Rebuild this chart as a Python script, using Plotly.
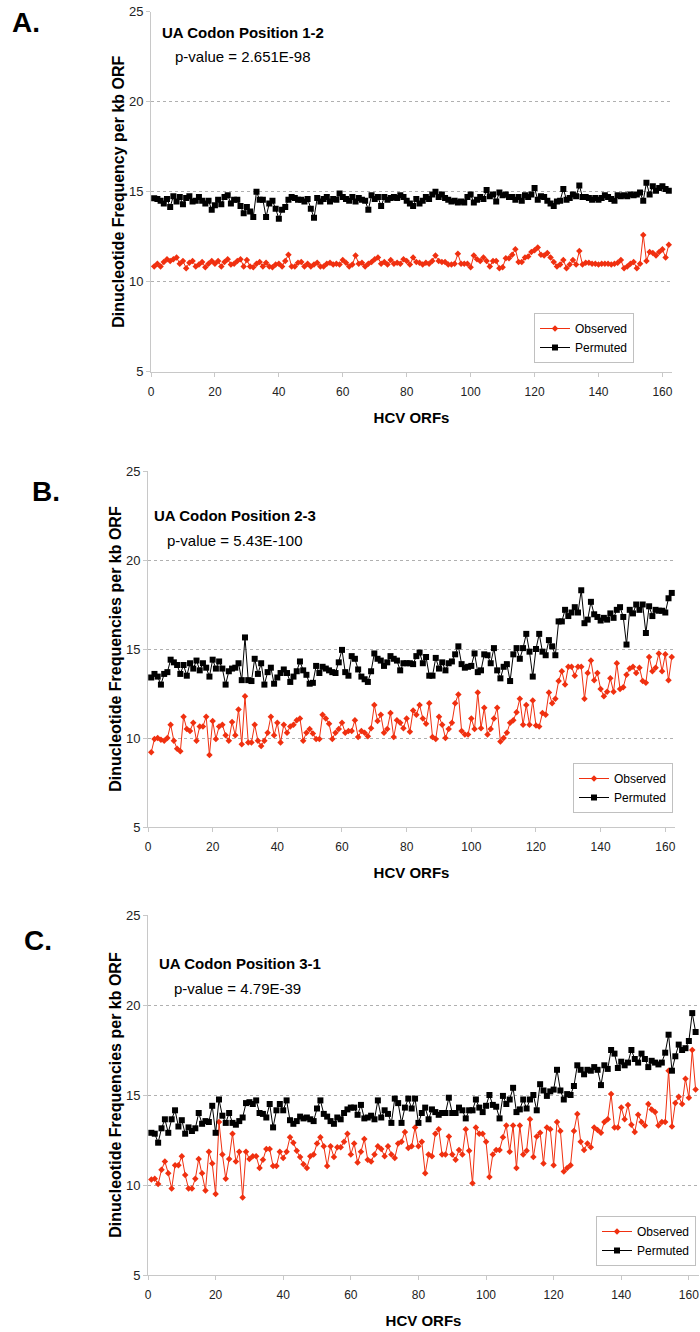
import plotly.graph_objects as go

# ---------------- data ----------------
a_observed = [10.85, 11.0, 10.85, 11.1, 11.25, 11.15, 11.25, 11.35, 11.0, 11.15, 10.75, 11.05, 11.15, 10.85, 10.95, 11.1, 10.8, 11.0, 11.15, 11.0,
              11.15, 10.85, 11.1, 11.25, 10.95, 11.0, 11.15, 11.25, 10.85, 11.2, 10.85, 10.8, 11.0, 11.1, 10.85, 11.05, 10.85, 10.8, 10.95, 11.0,
              10.85, 11.15, 11.5, 10.85, 10.85, 11.05, 11.1, 10.85, 11.0, 10.85, 10.95, 11.05, 10.85, 10.85, 11.0, 11.05, 10.95, 11.0, 10.95, 11.2,
              11.05, 10.85, 10.95, 11.45, 11.0, 11.05, 10.85, 11.0, 11.1, 11.25, 11.35, 11.0, 11.1, 10.95, 11.2, 11.0, 11.05,
              11.0, 11.25, 11.15, 10.95, 11.35, 11.1, 11.05, 10.95, 11.05, 11.0, 11.15, 11.45, 11.15, 11.1, 11.1, 10.95, 10.95, 11.0, 11.55, 11.0,
              11.0, 11.0, 10.8, 11.45, 11.25, 11.15, 11.35, 11.15, 10.85, 11.15, 11.15, 10.75, 10.8, 11.3, 11.3, 11.5, 11.8, 11.1, 11.1, 11.35,
              11.4, 11.65, 11.75, 11.9, 11.5, 11.45, 11.6, 11.35, 11.1, 10.85, 10.95, 11.2, 10.75, 10.95, 11.2, 10.95, 11.7, 10.95, 11.05, 11.05,
              11.0, 11.0, 10.95, 11.0, 11.0, 11.0, 10.95, 11.0, 11.05, 11.2, 10.75, 10.85, 11.0, 11.1, 10.75, 11.0, 12.6, 11.15, 11.65, 11.6,
              11.45, 11.65, 11.8, 11.35, 12.05]
a_permuted = [14.63, 14.6, 14.5, 14.35, 14.6, 14.15, 14.75, 14.45, 14.7, 14.3, 14.65, 14.75, 14.45, 14.5, 14.7, 14.5, 14.35, 14.5, 14.0, 14.25,
              14.55, 14.3, 14.7, 14.8, 14.35, 14.55, 14.55, 14.2, 13.8, 14.15, 13.9, 13.6, 15.0, 14.55, 14.55, 13.6, 14.35, 14.5, 14.05, 13.5,
              14.0, 14.15, 14.55, 14.7, 14.65, 14.55, 14.55, 14.45, 14.6, 14.05, 13.55, 14.65, 14.45, 14.6, 14.7, 14.45, 14.6, 14.55, 14.9, 14.7,
              14.6, 14.5, 14.7, 14.45, 14.65, 14.55, 14.5, 14.0, 14.8, 14.6, 14.7, 14.2, 14.7, 14.55, 14.65, 14.7, 14.65,
              14.8, 14.7, 14.5, 14.35, 14.2, 14.6, 14.35, 14.5, 14.7, 14.6, 14.85, 15.0, 14.7, 14.85, 14.65, 14.55, 14.45, 14.5, 14.4, 14.45,
              14.4, 14.7, 14.85, 14.4, 14.55, 14.7, 14.6, 15.1, 14.75, 14.85, 14.45, 14.95, 14.8, 14.85, 14.7, 14.7, 14.55, 14.7, 14.5, 14.8,
              14.7, 14.85, 15.2, 14.55, 14.75, 14.7, 14.5, 14.35, 14.2, 14.45, 14.5, 15.15, 14.55, 14.65, 14.85, 14.75, 15.35, 14.7, 14.7, 14.65,
              14.55, 14.65, 14.55, 14.65, 14.8, 14.7, 14.6, 14.5, 14.8, 14.75, 14.8, 14.75, 14.85, 14.8, 14.85, 14.95, 14.5, 15.5, 14.85, 15.3,
              15.05, 15.2, 15.3, 15.15, 15.05]

b_observed = [9.2, 9.95, 10.0, 9.9, 9.85, 10.0, 10.75, 9.85, 9.4, 9.25, 11.2, 10.5, 10.4, 10.85, 9.85, 10.65, 10.65, 11.2, 9.05, 10.95,
              9.95, 10.65, 10.75, 10.15, 9.85, 10.9, 10.15, 11.6, 9.65, 12.35, 9.75, 9.75, 10.75, 9.85, 9.55, 9.85, 10.3, 11.2, 10.15, 10.85,
              9.75, 10.75, 10.3, 10.65, 10.75, 11.0, 11.1, 9.85, 10.3, 10.5, 10.25, 9.95, 9.95, 11.3, 11.1, 10.8, 9.95, 10.3, 10.5, 10.85,
              10.3, 10.4, 10.4, 11.0, 10.05, 10.4, 10.3, 10.1, 10.55, 11.85, 10.95, 11.3, 10.3, 10.5, 11.4, 10.05, 11.0, 10.85, 10.55, 11.1,
              10.35, 11.55, 11.3, 11.85, 11.1, 10.8, 11.95, 10.05, 9.95, 11.2, 10.75, 10.0, 10.5, 10.85, 11.95, 12.45, 10.4, 10.2, 10.2, 11.1,
              10.5, 12.55, 10.55, 11.7, 10.2, 10.5, 11.1, 11.7, 9.8, 10.0, 10.3, 10.85, 11.0, 11.45, 12.2, 10.75, 11.85, 10.75, 12.1, 10.7,
              10.65, 11.4, 11.3, 12.55, 11.95, 12.2, 13.2, 13.75, 13.0, 14.0, 14.0, 13.5, 14.0, 14.0, 12.2, 13.65, 14.35, 13.25, 13.65, 12.75,
              12.35, 12.6, 13.35, 12.6, 14.2, 12.75, 12.85, 13.55, 13.9, 14.0, 13.65, 13.95, 13.2, 13.1, 14.55, 13.75, 13.95, 14.75, 13.75, 14.7,
              13.25, 14.55]
b_permuted = [13.4, 13.6, 13.45, 13.0, 13.6, 13.7, 14.4, 14.25, 14.1, 13.6, 14.1, 13.5, 14.2, 13.9, 14.35, 13.8, 14.2, 13.95, 13.45, 14.4,
              13.9, 14.3, 13.9, 13.0, 13.75, 13.9, 13.95, 14.2, 13.25, 15.65, 13.25, 13.2, 14.45, 13.6, 14.2, 13.0, 13.7, 13.95, 13.05, 13.4,
              13.65, 13.85, 13.65, 13.15, 13.45, 13.75, 14.3, 13.8, 13.55, 13.05, 13.1, 14.05, 13.65, 14.0, 13.9, 13.8, 13.7, 13.65, 14.25, 14.95,
              13.7, 13.5, 14.6, 14.45, 13.85, 13.45, 13.3, 13.15, 13.75, 14.75, 14.45, 14.35, 14.05, 14.25, 14.6, 14.45, 14.35, 13.8, 14.2, 14.2,
              14.2, 14.15, 14.6, 14.8, 14.2, 14.55, 13.5, 13.5, 14.5, 13.9, 14.25, 13.8, 14.2, 14.3, 14.7, 15.15, 14.15, 13.95, 14.0, 14.05,
              14.75, 13.7, 13.8, 14.7, 14.65, 14.2, 15.05, 13.8, 13.35, 14.0, 14.15, 13.2, 14.7, 15.05, 14.45, 15.05, 15.85, 14.85, 13.45, 15.0,
              15.85, 14.85, 14.65, 15.5, 15.15, 14.65, 16.55, 16.55, 17.2, 16.85, 17.05, 17.35, 17.05, 18.3, 16.45, 16.65, 17.65, 16.95, 16.8, 16.6,
              16.75, 16.65, 17.0, 16.75, 17.2, 17.35, 16.8, 15.25, 17.2, 17.0, 17.5, 17.2, 17.5, 15.9, 17.4, 16.85, 17.2, 17.15, 17.15, 17.05,
              17.85, 18.15]

c_observed = [10.3, 10.35, 10.05, 10.85, 11.3, 10.65, 9.8, 11.1, 11.1, 11.6, 10.55, 9.8, 9.8, 10.35, 11.45, 10.65, 9.7, 11.85, 11.2, 9.5,
              13.5, 11.7, 10.35, 11.45, 12.85, 11.3, 11.85, 9.3, 11.85, 11.45, 11.6, 11.6, 10.95, 11.4, 12.0, 12.0, 11.05, 11.05, 11.85, 11.5,
              11.85, 12.65, 12.35, 11.9, 11.55, 11.15, 10.95, 11.6, 11.7, 12.3, 12.65, 12.15, 11.05, 12.15, 11.55, 12.1, 12.1, 12.4, 12.85, 11.7,
              12.3, 11.25, 11.85, 12.55, 11.4, 11.3, 11.7, 12.15, 12.0, 11.6, 12.15, 11.7, 11.5, 12.3, 12.4, 12.95, 12.05, 12.15, 13.2, 12.15,
              12.4, 10.65, 11.7, 11.6, 12.85, 13.1, 11.7, 11.7, 12.7, 11.7, 11.4, 11.95, 11.7, 13.1, 11.9, 10.1, 13.2, 12.85, 12.85, 12.4,
              10.45, 11.7, 11.95, 11.95, 12.65, 13.3, 11.85, 13.3, 10.95, 13.3, 11.7, 11.9, 13.65, 11.55, 12.7, 12.9, 11.2, 13.2, 13.1, 11.1,
              13.5, 13.0, 10.75, 10.95, 11.1, 13.0, 13.95, 12.4, 11.95, 12.3, 12.1, 13.2, 13.05, 12.9, 13.5, 13.65, 15.05, 13.2, 13.2, 14.3,
              13.65, 14.45, 13.35, 12.95, 13.9, 13.5, 13.3, 14.5, 14.2, 14.05, 13.3, 13.5, 13.5, 16.35, 13.25, 14.55, 14.9, 14.5, 15.9, 14.85,
              17.5, 15.3]
c_permuted = [12.9, 12.85, 12.35, 13.15, 13.65, 12.9, 13.65, 14.15, 13.25, 13.6, 12.85, 13.2, 13.0, 13.15, 14.0, 13.4, 13.55, 13.5, 14.4, 12.9,
              14.75, 13.85, 13.45, 14.0, 13.45, 13.35, 13.55, 13.75, 14.55, 14.6, 14.5, 14.7, 14.0, 13.95, 13.75, 14.5, 13.2, 14.15, 14.5, 14.15,
              14.7, 13.6, 13.4, 13.55, 13.8, 13.7, 13.75, 13.65, 13.55, 14.25, 14.7, 13.95, 13.8, 13.55, 13.4, 13.75, 13.65, 14.0, 14.2, 14.3,
              14.3, 13.9, 14.45, 13.7, 13.75, 13.85, 13.65, 14.7, 13.75, 14.15, 13.95, 13.45, 14.8, 14.55, 13.45, 14.3, 14.8, 14.25, 14.8, 13.45,
              14.0, 14.3, 13.65, 14.2, 14.05, 13.9, 14.0, 14.0, 14.85, 14.0, 14.0, 14.3, 14.15, 13.7, 14.15, 14.15, 14.75, 14.3, 14.05, 14.4,
              15.0, 14.45, 14.35, 13.7, 14.95, 14.5, 14.75, 15.4, 14.05, 14.2, 14.75, 14.25, 14.75, 15.0, 14.15, 15.6, 15.25, 14.95, 15.2, 15.3,
              16.4, 15.25, 14.75, 15.05, 15.0, 15.5, 16.65, 16.4, 16.15, 16.4, 16.35, 16.55, 16.4, 15.55, 16.65, 16.45, 17.5, 17.3, 16.5, 16.85,
              16.65, 16.8, 17.5, 17.0, 16.8, 17.3, 17.0, 16.55, 16.9, 16.8, 16.7, 16.8, 17.35, 18.35, 16.35, 17.15, 17.8, 17.5, 17.6, 18.0,
              19.55, 18.5]

x_tick_vals = [0, 20, 40, 60, 80, 100, 120, 140, 160]
y_tick_vals = [5, 10, 15, 20, 25]

panel_letters = ["A.", "B.", "C."]
panel_titles = ["UA Codon Position 1-2", "UA Codon Position 2-3", "UA Codon Position 3-1"]
panel_pvalues = ["p-value = 2.651E-98", "p-value = 5.43E-100", "p-value = 4.79E-39"]
y_titles = ["Dinucleotide Frequency per kb ORF",
            "Dinucleotide Frequencies per kb ORF",
            "Dinucleotide Frequencies per kb ORF"]
x_title = "HCV ORFs"
series_names = ["Observed", "Permuted"]

# ---------------- layout helpers (pixels) ----------------
W, H = 700, 1332
FONT = "Liberation Sans, Arial, sans-serif"
RED = "#f03010"


def px(x):
    return x / W


def py(y):
    return 1 - y / H


# plot rectangles: left, right, top, bottom in pixels
rects = [(151, 672, 11.7, 371.7), (148, 675, 471, 827), (148, 699, 915, 1275)]
legend_pos = [(634, 363), (673, 813), (696, 1266)]
letter_pos = [(10, 23), (30, 491), (22, 940)]
title_pos = [(160, 32), (152, 515), (157, 963)]
pval_pos = [(173, 56), (165, 540), (172, 988)]

obs = [a_observed, b_observed, c_observed]
perm = [a_permuted, b_permuted, c_permuted]

fig = go.Figure()
annotations = []
layout_kw = {}
for i in range(3):
    sfx = "" if i == 0 else str(i + 1)
    leg = "legend" if i == 0 else "legend" + str(i + 1)
    xa = "x" + sfx
    ya = "y" + sfx
    fig.add_trace(go.Scatter(
        x=list(range(1, len(obs[i]) + 1)), y=obs[i], name=series_names[0],
        mode="lines+markers", line=dict(color=RED, width=1),
        marker=dict(symbol="diamond", size=5, color=RED),
        xaxis=xa, yaxis=ya, legend=leg))
    fig.add_trace(go.Scatter(
        x=list(range(1, len(perm[i]) + 1)), y=perm[i], name=series_names[1],
        mode="lines+markers", line=dict(color="black", width=1),
        marker=dict(symbol="square", size=6, color="black"),
        xaxis=xa, yaxis=ya, legend=leg))
    l, r, t, b = rects[i]
    layout_kw["xaxis" + sfx] = dict(
        domain=[px(l), px(r)], anchor=ya, range=[0, 163],
        tickvals=x_tick_vals, ticks="outside", ticklen=4, tickcolor="#c8c8c8",
        ticklabelstandoff=5,
        showline=True, linecolor="#c8c8c8", linewidth=1, showgrid=False, zeroline=False,
        tickfont=dict(family=FONT, size=12, color="#222"),
        title=dict(text="<b>" + x_title + "</b>", font=dict(family=FONT, size=15, color="black"), standoff=14),
        automargin=False)
    layout_kw["yaxis" + sfx] = dict(
        domain=[py(b), py(t)], anchor=xa, range=[5, 25],
        tickvals=y_tick_vals, ticks="outside", ticklen=4, tickcolor="#c8c8c8",
        showline=True, linecolor="#c8c8c8", linewidth=1,
        showgrid=True, gridcolor="#b0b0b0", griddash="dot", gridwidth=1, zeroline=False,
        tickfont=dict(family=FONT, size=13, color="#222"),
        title=dict(text="<b>" + y_titles[i] + "</b>", font=dict(family=FONT, size=16, color="black"), standoff=0),
        automargin=False)
    lx, ly = legend_pos[i]
    layout_kw[leg] = dict(
        x=px(lx), y=py(ly), xanchor="right", yanchor="bottom",
        bgcolor="white", bordercolor="#c0c0c0", borderwidth=1,
        font=dict(family=FONT, size=12, color="black"),
        itemwidth=30, tracegroupgap=0)
    annotations.append(dict(text="<b>" + panel_letters[i] + "</b>", x=px(letter_pos[i][0]), y=py(letter_pos[i][1]),
                            xref="paper", yref="paper", xanchor="left", yanchor="middle", showarrow=False,
                            font=dict(family=FONT, size=28, color="black")))
    annotations.append(dict(text="<b>" + panel_titles[i] + "</b>", x=px(title_pos[i][0]), y=py(title_pos[i][1]),
                            xref="paper", yref="paper", xanchor="left", yanchor="middle", showarrow=False,
                            font=dict(family=FONT, size=15, color="black")))
    annotations.append(dict(text=panel_pvalues[i], x=px(pval_pos[i][0]), y=py(pval_pos[i][1]),
                            xref="paper", yref="paper", xanchor="left", yanchor="middle", showarrow=False,
                            font=dict(family=FONT, size=15, color="black")))

fig.update_layout(
    width=W, height=H, margin=dict(l=0, r=0, t=0, b=0),
    paper_bgcolor="white", plot_bgcolor="white",
    annotations=annotations, **layout_kw)

fig.write_html("out.html")
